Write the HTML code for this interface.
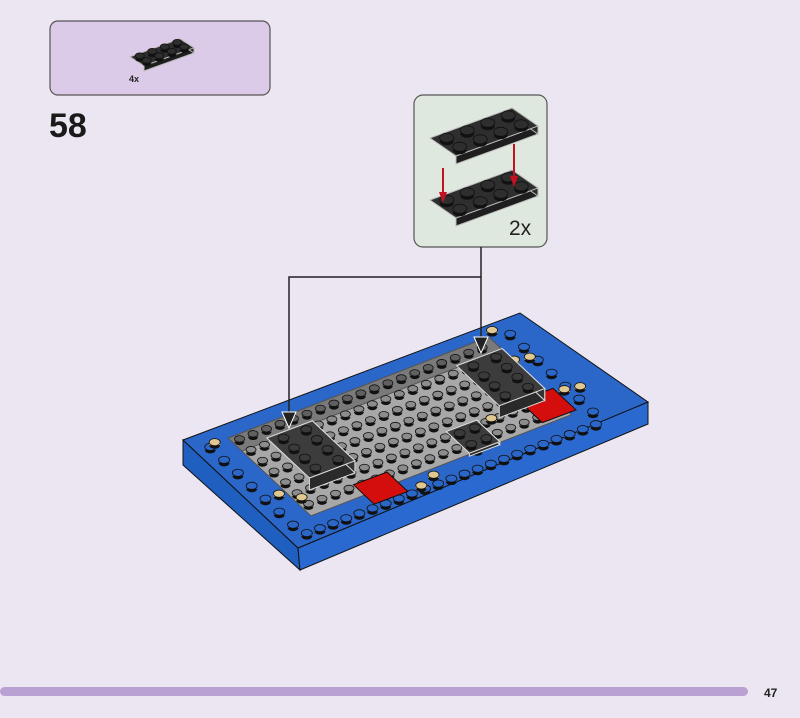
<!DOCTYPE html>
<html><head><meta charset="utf-8"><style>
html,body{margin:0;padding:0;background:#ece5f2;}
body{width:800px;height:718px;position:relative;overflow:hidden;font-family:"Liberation Sans",sans-serif;}
</style></head><body>
<svg id="s" width="800" height="718" viewBox="0 0 800 718" xmlns="http://www.w3.org/2000/svg" style="position:absolute;left:0;top:0">
<rect x="50" y="21" width="220" height="74" rx="8" fill="#dccbe8" stroke="#555" stroke-width="1.2"/>
<g id="pp"></g>
<text x="129" y="82" font-size="9" font-weight="bold" fill="#222">4x</text>
<text x="49" y="137" font-size="34" font-weight="bold" fill="#1a1a1a">58</text>
<rect x="414" y="95" width="133" height="152" rx="9" fill="#dfe8df" stroke="#555" stroke-width="1.2"/>
<text x="509" y="235" font-size="21" fill="#222">2x</text>
<g id="cb"></g>
<g id="base"></g>
<polyline points="481,247 481,277 289,277 289,418" fill="none" stroke="#222" stroke-width="1.5"/>
<line x1="481" y1="277" x2="481" y2="343" stroke="#222" stroke-width="1.5"/>
<polygon points="282,412 296,412 289,428" fill="#222" stroke="#fff" stroke-width="1"/>
<polygon points="474,337 488,337 481,353" fill="#222" stroke="#fff" stroke-width="1"/>
<rect x="0" y="687" width="748" height="9" rx="4.5" fill="#b9a2d3"/>
<text x="764" y="697" font-size="12" font-weight="bold" fill="#222">47</text>
</svg>
<script>
const NS="http://www.w3.org/2000/svg";
function el(p,t,a){const e=document.createElementNS(NS,t);for(const k in a)e.setAttribute(k,a[k]);p.appendChild(e);return e;}
const base=document.querySelector('#base');
const A=[183,440],B=[520,313],C=[648,402],D=[298,548];
const u=[(B[0]-A[0]),(B[1]-A[1])],v=[(D[0]-A[0]),(D[1]-A[1])];
function P(s,t,h){return [A[0]+u[0]*s+v[0]*t, A[1]+u[1]*s+v[1]*t-(h||0)];}
function poly(g,pts,f,st){return el(g,'polygon',{points:pts.map(p=>p.join(',')).join(' '),fill:f,stroke:st||'#111','stroke-width':1});}
poly(base,[A,D,[300,570],[183,465]],'#1f5fc0');
poly(base,[D,C,[648,424],[300,570]],'#2a6ad0');
poly(base,[A,B,C,D],'#2b66c9');
function stud(g,x,y,c,r){r=r||5.5;el(g,'ellipse',{cx:x,cy:y+2,rx:r,ry:r*0.65,fill:'#111'});el(g,'rect',{x:x-r,y:y-1,width:2*r,height:3,fill:c});el(g,'ellipse',{cx:x,cy:y-1,rx:r,ry:r*0.65,fill:c,stroke:'#111','stroke-width':0.8});}
for(let i=0;i<=22;i++){let s=0.05+i*0.039;stud(base,...P(s,0.93),'#2b66c9');}
for(let i=0;i<=6;i++){let t=0.12+i*0.12;stud(base,...P(0.04,t),'#2b66c9');stud(base,...P(0.93,t),'#2b66c9');}
poly(base,[P(0.1,0.1),P(0.88,0.08),P(0.88,0.8),P(0.1,0.82)],'#a8a8a8','#555');
poly(base,[P(0.1,0.1),P(0.88,0.08),P(0.88,0.2),P(0.1,0.22)],'#7a7a7a','#555');
for(let j=0;j<7;j++)for(let i=0;i<19;i++){let s=0.12+i*0.04,t=0.14+j*0.1;stud(base,...P(s,t),j==0?'#606060':'#8c8c8c',5);}
poly(base,[P(0.26,0.72),P(0.36,0.72),P(0.36,0.9),P(0.26,0.9)],'#d40d0d');
poly(base,[P(0.8,0.58),P(0.9,0.58),P(0.9,0.78),P(0.8,0.78)],'#d40d0d');
[[0.06,0.1],[0.08,0.6],[0.12,0.68],[0.4,0.9],[0.45,0.86],[0.6,0.8],[0.65,0.72],[0.9,0.05],[0.88,0.3],[0.92,0.32],[0.92,0.62],[0.96,0.64],[0.7,0.63]].forEach(q=>stud(base,...P(q[0],q[1]),'#e0c890'));
function plate(g,s0,t0,ds,dt,h,ns,nt){
 poly(g,[P(s0,t0+dt,h),P(s0+ds,t0+dt,h),P(s0+ds,t0+dt,0),P(s0,t0+dt,0)],'#2a2a2a','#ddd');
 poly(g,[P(s0+ds,t0,h),P(s0+ds,t0+dt,h),P(s0+ds,t0+dt,0),P(s0+ds,t0,0)],'#333','#ddd');
 poly(g,[P(s0,t0,h),P(s0+ds,t0,h),P(s0+ds,t0+dt,h),P(s0,t0+dt,h)],'#3c3c3c','#ddd');
 for(let j=0;j<nt;j++)for(let i=0;i<ns;i++){const p=P(s0+ds*(i+0.5)/ns,t0+dt*(j+0.5)/nt,h);stud(g,p[0],p[1],'#3a3a3a',5.5);} }
plate(base,0.155,0.275,0.135,0.37,12,2,4);
plate(base,0.72,0.27,0.135,0.37,12,2,4);
plate(base,0.57,0.62,0.09,0.2,3,2,2);
function iso(g,ox,oy,sc,uu,vv){uu=uu||[80*sc,-32*sc];vv=vv||[30*sc,20*sc];
 const Q=(s,t,h)=>[ox+uu[0]*s+vv[0]*t,oy+uu[1]*s+vv[1]*t-(h||0)];const h=8*sc;
 poly(g,[Q(0,1,h),Q(1,1,h),Q(1,1),Q(0,1)],'#1e1e1e','#bbb');
 poly(g,[Q(1,0,h),Q(1,1,h),Q(1,1),Q(1,0)],'#2a2a2a','#bbb');
 poly(g,[Q(0,0,h),Q(1,0,h),Q(1,1,h),Q(0,1,h)],'#2e2e2e','#bbb');
 for(let j=0;j<2;j++)for(let i=0;i<4;i++){const p=Q((i+0.5)/4,(j+0.5)/2,h);stud(g,p[0],p[1],'#2e2e2e',7*sc);}}
const cb=document.querySelector('#cb');
iso(cb,430,146,1,[82,-30],[26,18]);iso(cb,430,208,1,[82,-30],[26,18]);
el(cb,'line',{x1:443,y1:168,x2:443,y2:198,stroke:'#c41020','stroke-width':2});
el(cb,'polygon',{points:'439,192 447,192 443,203',fill:'#c41020'});
el(cb,'line',{x1:514,y1:144,x2:514,y2:182,stroke:'#c41020','stroke-width':2});
el(cb,'polygon',{points:'510,176 518,176 514,187',fill:'#c41020'});
iso(document.querySelector('#pp'),130,62,0.65,[50,-18],[14,9]);
</script>
</body></html>
